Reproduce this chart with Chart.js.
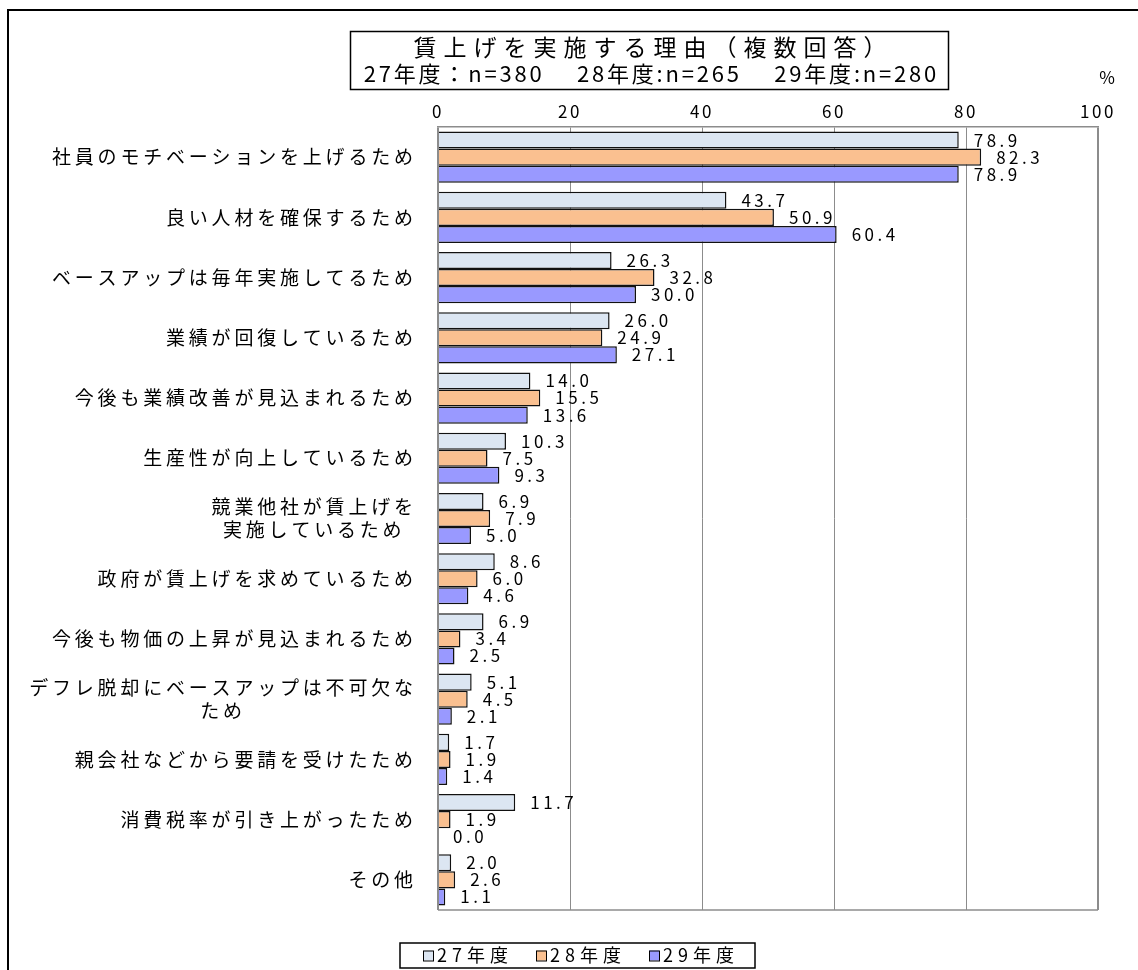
<!DOCTYPE html>
<html lang="ja">
<head>
<meta charset="utf-8">
<title>賃上げを実施する理由</title>
<script src="https://cdn.jsdelivr.net/npm/chart.js@4.4.1/dist/chart.umd.min.js"></script>
<style>
  html, body { margin: 0; padding: 0; background: #fff; }
  canvas { display: block; }
</style>
</head>
<body>
<canvas id="reasonChart" width="1138" height="970"></canvas>
<script>
// Data
const categories = [
  ["社員のモチベーションを上げるため"],
  ["良い人材を確保するため"],
  ["ベースアップは毎年実施してるため"],
  ["業績が回復しているため"],
  ["今後も業績改善が見込まれるため"],
  ["生産性が向上しているため"],
  ["競業他社が賃上げを", "実施しているため"],
  ["政府が賃上げを求めているため"],
  ["今後も物価の上昇が見込まれるため"],
  ["デフレ脱却にベースアップは不可欠な", "ため"],
  ["親会社などから要請を受けたため"],
  ["消費税率が引き上がったため"],
  ["その他"]
];
const seriesNames = ["27年度", "28年度", "29年度"];
const values27 = [78.9, 43.7, 26.3, 26.0, 14.0, 10.3, 6.9, 8.6, 6.9, 5.1, 1.7, 11.7, 2.0];
const values28 = [82.3, 50.9, 32.8, 24.9, 15.5, 7.5, 7.9, 6.0, 3.4, 4.5, 1.9, 1.9, 2.6];
const values29 = [78.9, 60.4, 30.0, 27.1, 13.6, 9.3, 5.0, 4.6, 2.5, 2.1, 1.4, 0.0, 1.1];
const tickValues = [0, 20, 40, 60, 80, 100];
const titleLines = ["賃上げを実施する理由（複数回答）", "27年度：n=380　 28年度:n=265　 29年度:n=280"];
const unitLabel = "%";

const colors = ["#dce6f2", "#fac090", "#9999ff"];
const FONT = '"Noto Sans CJK JP", "Noto Sans", sans-serif';

function textAt(ctx, str, x, y, size, spacing, align) {
  ctx.font = size + "px " + FONT;
  ctx.letterSpacing = spacing + "px";
  ctx.textAlign = align;
  ctx.textBaseline = "middle";
  // letterSpacing adds a trailing gap, shift to keep visual alignment
  let dx = 0;
  if (align === "center") dx = spacing / 2;
  if (align === "right") dx = spacing;
  ctx.fillText(str, x + dx, y);
}

// Frame, title box, labels and legend
const decorPlugin = {
  id: "decor",
  beforeDraw(chart) {
    chart.ctx.letterSpacing = "2.5px";
  },
  afterDraw(chart) {
    const ctx = chart.ctx;
    const area = chart.chartArea;
    const yScale = chart.scales.y;
    ctx.save();
    ctx.fillStyle = "#000";

    // outer frame
    ctx.strokeStyle = "#000";
    ctx.lineWidth = 2;
    ctx.beginPath();
    ctx.moveTo(8, 1000);
    ctx.lineTo(8, 10);
    ctx.lineTo(1200, 10);
    ctx.stroke();

    // plot bottom line
    ctx.strokeStyle = "#8c8c8c";
    ctx.lineWidth = 1.5;
    ctx.beginPath();
    ctx.moveTo(area.left, area.bottom);
    ctx.lineTo(area.right, area.bottom);
    ctx.stroke();

    // title box
    ctx.strokeStyle = "#000";
    ctx.lineWidth = 1.5;
    ctx.strokeRect(350.5, 31.5, 598, 58);
    textAt(ctx, titleLines[0], 650, 47, 23, 7, "center");
    textAt(ctx, titleLines[1], 650, 74, 22, 2.8, "center");

    // unit
    textAt(ctx, unitLabel, 1107, 78, 17, 0, "center");

    // category labels
    categories.forEach((lines, i) => {
      const y = yScale.getPixelForValue(i);
      ctx.font = "19px " + FONT;
      ctx.letterSpacing = "3.8px";
      const w = Math.max(...lines.map(l => ctx.measureText(l).width - 3.8));
      const cx = 413 - w / 2;
      lines.forEach((l, j) => {
        const ly = y + (j - (lines.length - 1) / 2) * 23;
        textAt(ctx, l, cx, ly, 19, 3.8, "center");
      });
    });

    // legend
    const lx0 = 400, ly0 = 943, lw = 355, lh = 25;
    ctx.strokeStyle = "#000";
    ctx.lineWidth = 1.5;
    ctx.strokeRect(lx0, ly0, lw, lh);
    const ly = ly0 + lh / 2;
    seriesNames.forEach((name, i) => {
      const x = 423 + i * 113;
      ctx.fillStyle = colors[i];
      ctx.fillRect(x, ly - 5, 10, 10);
      ctx.strokeStyle = "#000";
      ctx.lineWidth = 1;
      ctx.strokeRect(x + 0.5, ly - 4.5, 10, 10);
      ctx.fillStyle = "#000";
      textAt(ctx, name, x + 14, ly, 18, 5, "left");
    });
    ctx.restore();
  },
  afterDatasetsDraw(chart) {
    const ctx = chart.ctx;
    ctx.save();
    ctx.fillStyle = "#000";
    chart.data.datasets.forEach((ds, di) => {
      const meta = chart.getDatasetMeta(di);
      meta.data.forEach((bar, i) => {
        textAt(ctx, ds.data[i].toFixed(1), bar.x + 15, bar.y, 17, 3.5, "left");
      });
    });
    ctx.restore();
  }
};

const ctx = document.getElementById("reasonChart").getContext("2d");
const chart = new Chart(ctx, {
  type: "bar",
  data: {
    labels: categories,
    datasets: [values27, values28, values29].map((vals, i) => ({
      label: seriesNames[i],
      data: vals,
      backgroundColor: colors[i],
      borderColor: "#111",
      borderWidth: 1.5,
      categoryPercentage: 0.85,
      barPercentage: 1.0
    }))
  },
  options: {
    indexAxis: "y",
    responsive: false,
    animation: false,
    layout: { padding: { top: 101, left: 438, right: 40, bottom: 60 } },
    plugins: {
      legend: { display: false },
      tooltip: { enabled: false }
    },
    scales: {
      x: {
        position: "top",
        min: 0,
        max: 100,
        afterBuildTicks: s => { s.ticks = tickValues.map(v => ({ value: v })); },
        afterFit: s => { s.height = 26; },
        ticks: {
          color: "#000",
          padding: 5,
          font: { family: FONT, size: 17 }
        },
        grid: {
          drawTicks: false,
          color: "#8c8c8c",
          lineWidth: c => (c.tick && (c.tick.value === 0 || c.tick.value === 100)) ? 2 : 1
        },
        border: { display: true, color: "#8c8c8c", width: 1.5 }
      },
      y: {
        display: false
      }
    }
  },
  plugins: [decorPlugin]
});
</script>
</body>
</html>
